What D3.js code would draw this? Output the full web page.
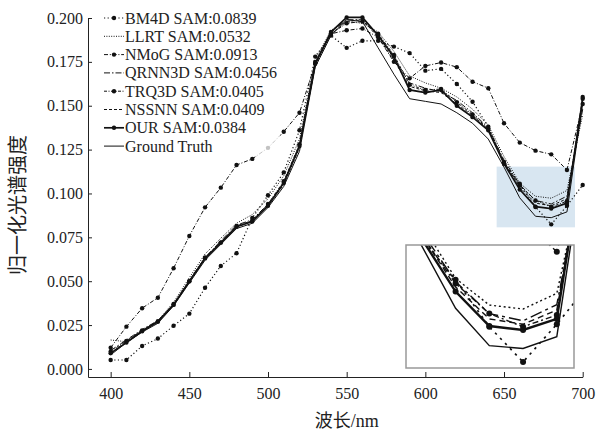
<!DOCTYPE html>
<html>
<head>
<meta charset="utf-8">
<script src="https://cdn.jsdelivr.net/npm/d3@7/dist/d3.min.js"></script>
<style>
  body { margin: 0; background: #fff; }
  svg { font-family: "Liberation Serif", "Noto Sans CJK SC", serif; }
</style>
</head>
<body>
<div id="chart"></div>
<script>
// wavelength samples (nm)
var wavelengths = [400, 410, 420, 430, 440, 450, 460, 470, 480, 490, 500, 510, 520, 530, 540, 550,
  560, 570, 580, 590, 600, 610, 620, 630, 640, 650, 660, 670, 680, 690, 700];

var bm4d = [0.0051, 0.0051, 0.0131, 0.0173, 0.0246, 0.0315, 0.0463, 0.0587, 0.0659, 0.0860, 0.0990, 0.1120, 0.1360, 0.1780, 0.1900, 0.1830,
  0.1870, 0.1870, 0.1837, 0.1800, 0.1700, 0.1710, 0.1624, 0.1523, 0.1380, 0.1170, 0.1055, 0.0923, 0.0824, 0.0930, 0.1048];
var llrt = [0.0165, 0.0155, 0.0220, 0.0275, 0.0380, 0.0520, 0.0655, 0.0745, 0.0830, 0.0880, 0.0970, 0.1100, 0.1310, 0.1760, 0.1930, 0.1980,
  0.1970, 0.1920, 0.1810, 0.1670, 0.1630, 0.1600, 0.1550, 0.1480, 0.1390, 0.1210, 0.1059, 0.0984, 0.0973, 0.1017, 0.1450];
var nmog = [0.0121, 0.0241, 0.0346, 0.0406, 0.0574, 0.0758, 0.0921, 0.1033, 0.1162, 0.1197, 0.1260, 0.1352, 0.1460, 0.1740, 0.1910, 0.1930,
  0.1940, 0.1890, 0.1750, 0.1656, 0.1727, 0.1746, 0.1720, 0.1637, 0.1600, 0.1400, 0.1290, 0.1244, 0.1223, 0.1134, 0.1510];
var qrnn3d = [0.0105, 0.0165, 0.0225, 0.0275, 0.0370, 0.0505, 0.0635, 0.0730, 0.0820, 0.0850, 0.0940, 0.1060, 0.1270, 0.1740, 0.1920, 0.1990,
  0.1990, 0.1900, 0.1770, 0.1630, 0.1600, 0.1580, 0.1530, 0.1460, 0.1375, 0.1190, 0.1050, 0.0960, 0.0940, 0.0985, 0.1480];
var trq3d = [0.0100, 0.0160, 0.0220, 0.0270, 0.0370, 0.0500, 0.0635, 0.0720, 0.0815, 0.0845, 0.0940, 0.1070, 0.1280, 0.1750, 0.1910, 0.1970,
  0.1980, 0.1910, 0.1790, 0.1620, 0.1590, 0.1595, 0.1520, 0.1450, 0.1370, 0.1180, 0.1045, 0.0960, 0.0923, 0.0956, 0.1550];
var nssnn = [0.0090, 0.0155, 0.0220, 0.0265, 0.0370, 0.0495, 0.0630, 0.0715, 0.0810, 0.0840, 0.0930, 0.1050, 0.1260, 0.1730, 0.1910, 0.1980,
  0.1990, 0.1890, 0.1760, 0.1610, 0.1585, 0.1575, 0.1510, 0.1445, 0.1365, 0.1180, 0.1035, 0.0945, 0.0930, 0.0970, 0.1500];
var our = [0.0090, 0.0150, 0.0215, 0.0270, 0.0365, 0.0500, 0.0630, 0.0720, 0.0810, 0.0840, 0.0930, 0.1060, 0.1270, 0.1740, 0.1920, 0.2003,
  0.2003, 0.1900, 0.1780, 0.1590, 0.1575, 0.1590, 0.1500, 0.1435, 0.1360, 0.1170, 0.1022, 0.0925, 0.0914, 0.0945, 0.1540];
var groundTruth = [0.0080, 0.0150, 0.0210, 0.0260, 0.0360, 0.0490, 0.0620, 0.0710, 0.0800, 0.0830, 0.0920, 0.1040, 0.1240, 0.1720, 0.1900, 0.1990,
  0.1980, 0.1830, 0.1680, 0.1540, 0.1525, 0.1510, 0.1460, 0.1400, 0.1310, 0.1150, 0.0975, 0.0870, 0.0862, 0.0895, 0.1520];

var methodNames = ["BM4D", "LLRT", "NMoG", "QRNN3D", "TRQ3D", "NSSNN", "OUR", "Ground Truth"];
var samScores = ["0.0839", "0.0532", "0.0913", "0.0456", "0.0405", "0.0409", "0.0384", ""];

var xTicks = [400, 450, 500, 550, 600, 650, 700];
var yTicks = [0, 0.025, 0.05, 0.075, 0.1, 0.125, 0.15, 0.175, 0.2];
var zoomBox = { x0: 645.3, x1: 695.1, y0: 0.0807, y1: 0.1153 };

var seriesValues = [bm4d, llrt, nmog, qrnn3d, trq3d, nssnn, our, groundTruth];
// line looks, in legend order
var looks = [
  { dash: "1.2,2.4", w: 1.2, dot: true },
  { dash: "1,1.4", w: 1, dot: false },
  { dash: "4,1.8,1,1.8", w: 1, dot: true },
  { dash: "6,2,1.5,2", w: 1, dot: false },
  { dash: "3,1.5,1,1.5", w: 1, dot: true },
  { dash: "3,2", w: 1, dot: false },
  { dash: null, w: 1.7, dot: true },
  { dash: null, w: 1, dot: false }
];

var FONT = '"Liberation Serif", "Noto Sans CJK SC", serif';

var series = methodNames.map(function (n, i) {
  return {
    name: n,
    label: samScores[i] ? n + " SAM:" + samScores[i] : n,
    look: looks[i],
    pts: wavelengths.map(function (w, j) { return { x: w, y: seriesValues[i][j] }; })
  };
});

var svg = d3.select("#chart").append("svg")
  .attr("width", 596)
  .attr("height", 435)
  .style("background", "white");

var x = d3.scaleLinear().domain([385.6, 700]).range([88, 582.7]);
var y = d3.scaleLinear().domain([-0.0046, 0.2]).range([377, 18]);

// shaded zoom region
svg.append("rect")
  .attr("x", x(zoomBox.x0))
  .attr("y", y(zoomBox.y1))
  .attr("width", x(zoomBox.x1) - x(zoomBox.x0))
  .attr("height", y(zoomBox.y0) - y(zoomBox.y1))
  .attr("fill", "#d8e6f1");

function drawSeries(g, xs, ys, k, r) {
  series.forEach(function (s) {
    var line = d3.line().x(d => xs(d.x)).y(d => ys(d.y));
    var dash = s.look.dash ? s.look.dash.split(",").map(v => +v * k).join(",") : null;
    g.append("path")
      .datum(s.pts)
      .attr("fill", "none")
      .attr("stroke", "#111")
      .attr("stroke-width", s.look.w * (k > 1 ? 1.4 : 1))
      .attr("stroke-dasharray", dash)
      .attr("d", line);
    if (s.look.dot) {
      g.selectAll(null)
        .data(s.pts)
        .enter().append("circle")
        .attr("cx", d => xs(d.x))
        .attr("cy", d => ys(d.y))
        .attr("r", r)
        .attr("fill", "#111");
    }
  });
}

drawSeries(svg.append("g"), x, y, 1, 2.2);

// axes
var xAxis = svg.append("g")
  .attr("transform", "translate(0," + 377 + ")")
  .call(d3.axisBottom(x).tickValues(xTicks).tickSize(-5).tickSizeOuter(0).tickPadding(11).tickFormat(d3.format("d")));
var yAxis = svg.append("g")
  .attr("transform", "translate(" + 88 + ",0)")
  .call(d3.axisLeft(y).tickValues(yTicks).tickSize(-4).tickSizeOuter(0).tickPadding(5).tickFormat(d3.format(".3f")));

[xAxis, yAxis].forEach(function (a) {
  a.attr("font-family", FONT).attr("font-size", 16);
  a.selectAll("text").attr("fill", "#222");
  a.selectAll("line, path").attr("stroke", "#222");
});

svg.append("text")
  .attr("x", x(550))
  .attr("y", 427)
  .attr("text-anchor", "middle")
  .style("font-size", "18px")
  .attr("fill", "#222")
  .text("波长/nm");

svg.append("text")
  .attr("transform", "translate(18,205)rotate(-90)")
  .attr("text-anchor", "middle")
  .attr("dominant-baseline", "central")
  .style("font-size", "20px")
  .attr("fill", "#222")
  .text("归一化光谱强度");

// legend
svg.append("rect")
  .attr("x", 100).attr("y", 4)
  .attr("width", 180).attr("height", 152)
  .attr("fill", "white").attr("fill-opacity", 0.75);

series.forEach(function (s, i) {
  var ly = 18 + i * 18.3;
  svg.append("line")
    .attr("x1", 104).attr("x2", 124)
    .attr("y1", ly).attr("y2", ly)
    .attr("stroke", "#111")
    .attr("stroke-width", s.look.w)
    .attr("stroke-dasharray", s.look.dash);
  if (s.look.dot) {
    svg.append("circle").attr("cx", 114).attr("cy", ly).attr("r", 2.2).attr("fill", "#111");
  }
  svg.append("text")
    .attr("x", 125)
    .attr("y", ly)
    .attr("dominant-baseline", "central")
    .style("font-size", "16px")
    .attr("fill", "#222")
    .text(s.label);
});

// inset with the magnified region
var inset = { left: 406, top: 245, w: 168, h: 123 };
var xi = d3.scaleLinear().domain([zoomBox.x0, zoomBox.x1]).range([inset.left, inset.left + inset.w]);
var yi = d3.scaleLinear().domain([zoomBox.y0, zoomBox.y1]).range([inset.top + inset.h, inset.top]);

svg.append("clipPath").attr("id", "insetClip")
  .append("rect")
  .attr("x", inset.left).attr("y", inset.top)
  .attr("width", inset.w).attr("height", inset.h);

svg.append("rect")
  .attr("x", inset.left).attr("y", inset.top)
  .attr("width", inset.w).attr("height", inset.h)
  .attr("fill", "white");

drawSeries(svg.append("g").attr("clip-path", "url(#insetClip)"), xi, yi, 2, 3);

svg.append("rect")
  .attr("x", inset.left).attr("y", inset.top)
  .attr("width", inset.w).attr("height", inset.h)
  .attr("fill", "none")
  .attr("stroke", "#999")
  .attr("stroke-width", 1.5);
</script>
</body>
</html>
